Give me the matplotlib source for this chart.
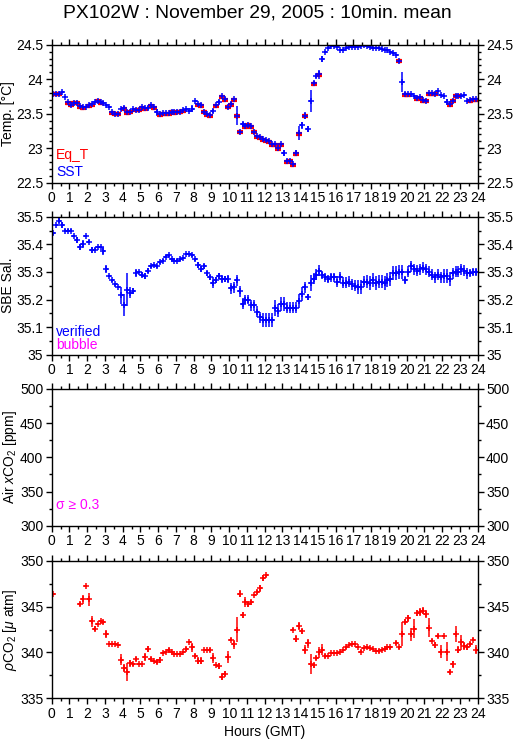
import numpy as np
import matplotlib
matplotlib.use("Agg")
import matplotlib.pyplot as plt

plt.rcParams['font.family'] = ['Liberation Sans', 'DejaVu Sans']
plt.rcParams['mathtext.fontset'] = 'custom'
plt.rcParams['mathtext.rm'] = 'Liberation Sans'
plt.rcParams['mathtext.it'] = 'Liberation Sans:italic'

nan = np.nan
# 10 min means, centre of each interval (hours GMT)
hours = np.arange(144) / 6.0 + 1.0 / 12.0

sst = [23.79, 23.79, 23.79, 23.81, 23.74, 23.67,
       23.63, 23.66, 23.66, 23.61, 23.59, 23.59,
       23.62, 23.64, 23.67, 23.69, 23.67, 23.65,
       23.62, 23.59, 23.52, 23.50, 23.50, 23.57,
       23.58, 23.52, 23.53, 23.57, 23.56, 23.56,
       23.59, 23.58, 23.58, 23.62, 23.59, 23.52,
       23.49, 23.51, 23.51, 23.51, 23.53, 23.52,
       23.53, 23.53, 23.55, 23.57, 23.54, 23.57,
       23.68, 23.64, 23.62, 23.53, 23.49, 23.48,
       23.54, 23.62, 23.67, 23.75, 23.71, 23.60,
       23.64, 23.71, 23.47, 23.24, 23.35, 23.32,
       23.34, 23.32, 23.24, 23.17, 23.16, 23.13,
       23.12, 23.10, 23.06, 23.06, 23.00, 23.06,
       22.93, 22.81, 22.82, 22.77, 22.93, 23.22,
       23.33, 23.47, 23.28, 23.68, 23.94, 24.05,
       24.07, 24.29, 24.40, 24.45, 24.48, 24.48,
       24.47, 24.42, 24.42, 24.45, 24.46, 24.46,
       24.46, 24.46, 24.48, 24.49, 24.48, 24.47,
       24.45, 24.45, 24.45, 24.44, 24.42, 24.42,
       24.40, 24.38, 24.35, 24.27, 23.96, 23.78,
       23.78, 23.78, 23.76, 23.73, 23.74, 23.70,
       23.69, 23.80, 23.80, 23.79, 23.83, 23.77,
       23.75, 23.67, 23.64, 23.69, 23.76, 23.76,
       23.76, 23.77, 23.68, 23.70, 23.71, 23.71]

sst_err = [0.005, 0.005, 0.005, 0.01, 0.01, 0.01,
           0.01, 0.01, 0.01, 0.01, 0.01, 0.01,
           0.005, 0.005, 0.01, 0.005, 0.01, 0.01,
           0.01, 0.01, 0.01, 0.01, 0.005, 0.01,
           0.03, 0.01, 0.01, 0.01, 0.01, 0.01,
           0.01, 0.01, 0.03, 0.005, 0.01, 0.05,
           0.01, 0.005, 0.005, 0.005, 0.005, 0.005,
           0.005, 0.005, 0.005, 0.01, 0.01, 0.05,
           0.01, 0.01, 0.03, 0.01, 0.005, 0.005,
           0.03, 0.005, 0.03, 0.005, 0.03, 0.03,
           0.03, 0.01, 0.14, 0.03, 0.03, 0.03,
           0.01, 0.01, 0.03, 0.01, 0.01, 0.01,
           0.01, 0.01, 0.01, 0.01, 0.03, 0.01,
           0.05, 0.03, 0.03, 0.01, 0.04, 0.1,
           0.05, 0.05, 0.04, 0.16, 0.03, 0.03,
           0.06, 0.04, 0.01, 0.005, 0.005, 0.005,
           0.005, 0.01, 0.01, 0.005, 0.005, 0.005,
           0.005, 0.005, 0.005, 0.005, 0.005, 0.005,
           0.005, 0.005, 0.005, 0.005, 0.005, 0.005,
           0.005, 0.005, 0.01, 0.03, 0.14, 0.03,
           0.005, 0.01, 0.01, 0.01, 0.005, 0.01,
           0.01, 0.01, 0.01, 0.01, 0.005, 0.01,
           0.01, 0.04, 0.03, 0.01, 0.005, 0.005,
           0.005, 0.01, 0.01, 0.005, 0.005, 0.005]

eq_t = [23.78, 23.78, 23.78, nan, nan, 23.66,
        23.62, 23.65, 23.65, 23.60, 23.58, nan,
        23.61, 23.63, nan, 23.68, 23.66, nan,
        nan, nan, 23.51, 23.49, 23.49, nan,
        23.57, 23.51, 23.52, nan, 23.55, 23.55,
        23.58, 23.57, nan, 23.61, 23.58, nan,
        23.48, 23.50, 23.50, 23.50, 23.52, 23.51,
        23.52, 23.52, 23.54, nan, nan, nan,
        nan, 23.63, 23.61, 23.52, 23.48, 23.47,
        nan, 23.61, nan, 23.74, 23.70, 23.59,
        23.63, 23.70, 23.46, 23.23, nan, 23.31,
        23.33, 23.31, 23.23, 23.16, 23.15, 23.12,
        23.11, 23.09, 23.05, 23.05, 22.99, 23.05,
        nan, 22.80, 22.81, 22.76, 22.92, 23.21,
        nan, 23.46, nan, nan, 23.93, nan,
        24.06, nan, nan, nan, nan, nan,
        nan, nan, nan, nan, nan, nan,
        nan, nan, nan, nan, nan, nan,
        nan, nan, nan, nan, nan, nan,
        nan, nan, nan, 24.26, nan, 23.77,
        23.77, nan, nan, 23.72, 23.73, 23.69,
        23.68, 23.79, 23.79, 23.78, nan, nan,
        nan, nan, 23.63, 23.68, 23.75, 23.75,
        nan, nan, nan, 23.69, 23.70, 23.70]

sal = [35.44, 35.47, 35.486, 35.47, 35.45, 35.45,
       35.45, 35.43, 35.415, 35.39, 35.40, 35.43,
       35.41, 35.38, 35.38, 35.39, 35.39, 35.375,
       35.31, 35.285, 35.27, 35.255, 35.245, 35.215,
       35.18, 35.235, 35.225, 35.23, 35.295, 35.30,
       35.29, 35.285, 35.305, 35.32, 35.325, 35.32,
       35.335, 35.34, 35.355, 35.36, 35.345, 35.34,
       35.34, 35.345, 35.35, 35.365, 35.365, 35.36,
       35.345, 35.325, 35.31, 35.32, 35.295, 35.28,
       35.26, 35.27, 35.285, 35.275, 35.275, 35.275,
       35.24, 35.245, 35.27, 35.23, 35.185, 35.20,
       35.20, 35.18, 35.18, 35.155, 35.135, 35.125,
       35.125, 35.125, 35.125, 35.17, 35.16, 35.185,
       35.185, 35.17, 35.17, 35.17, 35.17, 35.195,
       35.22, 35.245, 35.21, 35.26, 35.275, 35.29,
       35.305, 35.29, 35.28, 35.275, 35.28, 35.28,
       35.265, 35.28, 35.26, 35.26, 35.265, 35.255,
       35.25, 35.245, 35.245, 35.265, 35.265, 35.26,
       35.27, 35.26, 35.265, 35.265, 35.26, 35.27,
       35.275, 35.295, 35.295, 35.30, 35.30, 35.27,
       35.30, 35.32, 35.31, 35.305, 35.31, 35.315,
       35.31, 35.30, 35.29, 35.28, 35.29, 35.28,
       35.285, 35.285, 35.275, 35.295, 35.30, 35.30,
       35.31, 35.305, 35.295, 35.295, 35.30, 35.30]

sal_err = [0.005, 0.005, 0.01, 0.01, 0.005, 0.005,
           0.005, 0.005, 0.01, 0.01, 0.015, 0.005,
           0.005, 0.01, 0.005, 0.005, 0.005, 0.015,
           0.015, 0.005, 0.005, 0.005, 0.005, 0.03,
           0.04, 0.06, 0.02, 0.01, 0.015, 0.005,
           0.01, 0.01, 0.01, 0.005, 0.005, 0.005,
           0.005, 0.005, 0.005, 0.005, 0.005, 0.005,
           0.005, 0.005, 0.005, 0.005, 0.005, 0.005,
           0.005, 0.01, 0.01, 0.01, 0.01, 0.01,
           0.02, 0.01, 0.01, 0.015, 0.01, 0.015,
           0.02, 0.02, 0.02, 0.02, 0.02, 0.015,
           0.015, 0.02, 0.02, 0.02, 0.02, 0.025,
           0.025, 0.025, 0.025, 0.03, 0.025, 0.025,
           0.025, 0.02, 0.02, 0.02, 0.02, 0.025,
           0.025, 0.02, 0.01, 0.03, 0.02, 0.02,
           0.02, 0.015, 0.015, 0.015, 0.015, 0.015,
           0.02, 0.02, 0.02, 0.02, 0.02, 0.02,
           0.02, 0.025, 0.025, 0.02, 0.025, 0.025,
           0.025, 0.025, 0.025, 0.025, 0.025, 0.025,
           0.025, 0.025, 0.025, 0.025, 0.025, 0.015,
           0.02, 0.02, 0.02, 0.02, 0.02, 0.02,
           0.02, 0.02, 0.02, 0.02, 0.02, 0.02,
           0.025, 0.025, 0.025, 0.02, 0.02, 0.02,
           0.02, 0.02, 0.02, 0.015, 0.015, 0.015]

pco2 = [346.4, nan, nan, nan, nan, nan,
        nan, nan, nan, 345.3, 345.8, 347.2,
        345.8, 343.4, 342.6, 343.1, 343.4, 343.3,
        342.0, 340.9, 340.9, 340.9, 340.8, 339.2,
        338.3, 337.9, 338.8, 338.7, 339.3, 338.7,
        338.7, 339.5, 340.4, 339.3, 339.1, 339.0,
        339.2, 339.9, 340.05, 340.3, 340.05, 339.8,
        339.8, 339.8, 340.0, 340.4, 341.1, 340.55,
        339.6, 339.1, 339.1, 340.3, 340.3, 340.3,
        339.4, 338.6, 338.5, 337.35, 337.7, 339.5,
        341.4, 340.9, 342.5, 346.4, 344.1, 345.5,
        345.25, 345.45, 346.3, 346.6, 347.0, 348.1,
        348.4, nan, nan, nan, nan, nan,
        nan, nan, nan, 342.5, 341.5, 342.9,
        342.3, 340.3, 341.0, 338.7, 338.6, 339.4,
        340.0, 340.3, 339.6, 339.6, 339.9, 339.9,
        339.9, 340.05, 340.3, 340.55, 340.8, 340.9,
        340.9, 340.55, 340.1, 340.45, 340.55, 340.45,
        340.35, 340.2, 340.15, 340.25, 340.4, 340.55,
        340.55, nan, 341.0, 340.55, 342.0, 343.35,
        343.7, 342.0, 342.6, 344.3, 344.4, 344.55,
        344.2, 342.7, 341.3, 340.8, 341.8, 340.1,
        341.8, 340.1, 337.9, 338.7, 342.0, 340.3,
        341.1, 340.7, 340.55, 340.9, 341.4, 340.3]

pco2_err = [0.0, 0, 0, 0, 0, 0,
            0, 0, 0, 0.2, 0.5, 0.1,
            0.7, 0.6, 0.3, 0.1, 0.15, 0.15,
            0.4, 0.1, 0.1, 0.1, 0.1, 0.6,
            0.4, 1.0, 0.4, 0.2, 0.2, 0.1,
            0.1, 0.4, 0.3, 0.2, 0.1, 0.3,
            0.3, 0.1, 0.1, 0.2, 0.1, 0.1,
            0.1, 0.1, 0.1, 0.2, 0.1, 0.5,
            0.2, 0.4, 0.4, 0.1, 0.1, 0.2,
            0.5, 0.1, 0.3, 0.4, 0.3, 0.7,
            0.2, 0.5, 1.4, 0.4, 0.3, 0.5,
            0.3, 0.3, 0.1, 0.2, 0.4, 0.3,
            0.2, 0, 0, 0, 0, 0,
            0, 0, 0, 0.2, 0.4, 0.4,
            0.3, 0.5, 0.5, 1.1, 0.3, 0.2,
            0.6, 0.6, 0.2, 0.1, 0.1, 0.1,
            0.1, 0.1, 0.1, 0.2, 0.1, 0.1,
            0.1, 0.1, 0.2, 0.1, 0.2, 0.1,
            0.1, 0.1, 0.2, 0.1, 0.1, 0.2,
            0.2, 0, 0.2, 0.2, 1.3, 0.3,
            0.4, 0.7, 1.0, 0.3, 0.4, 0.4,
            0.4, 1.0, 0.2, 0.3, 0.2, 0.7,
            0.1, 1.0, 0.2, 0.4, 0.9, 0.4,
            0.8, 0.4, 0.3, 0.2, 0.2, 0.5]

BLUE = '#0000ff'
RED = '#ff0000'
MAG = '#ff00ff'
half = 1.0 / 12.0

fig = plt.figure(figsize=(5.15, 7.39), dpi=100)
fig.text(0.5, 1 - 13 / 739, 'PX102W : November 29, 2005 : 10min. mean',
         ha='center', va='center', fontsize=13.9)

left, width = 51.7 / 515, 426.0 / 515
boxes = [(44.7, 182.7), (216.7, 354.7), (389.0, 525.7), (560.7, 698.3)]
axes = []
for top, bot in boxes:
    ax = fig.add_axes([left, 1 - bot / 739, width, (bot - top) / 739])
    axes.append(ax)

ylims = [(22.5, 24.5), (35.0, 35.5), (300, 500), (335, 350)]
ymaj = [0.5, 0.1, 50, 5]
ymin = [0.1, 0.05, 25, 2.5]
ylabels = ['Temp. [°C]', 'SBE Sal.', 'Air $x$CO$_2$ [ppm]', r'$\rho$CO$_2$ [$\mu$ atm]']

for i, ax in enumerate(axes):
    ax.set_xlim(0, 24)
    ax.set_ylim(*ylims[i])
    ax.set_xticks(np.arange(0, 25, 1))
    ax.set_xticks(np.arange(0.5, 24, 1), minor=True)
    yt = np.arange(ylims[i][0], ylims[i][1] + 1e-9, ymaj[i])
    ax.set_yticks(yt)
    ax.set_yticklabels(['{:g}'.format(round(v, 2)) for v in yt])
    ax.set_yticks(np.arange(ylims[i][0], ylims[i][1] + 1e-9, ymin[i]), minor=True)
    ax.tick_params(which='both', direction='out', top=True, right=True,
                   labelright=True, labelsize=10, pad=2, width=1)
    ax.tick_params(which='major', length=4)
    ax.tick_params(which='minor', length=2.5)
    ax.set_ylabel(ylabels[i], fontsize=10, labelpad=1)
    for s in ax.spines.values():
        s.set_linewidth(1)

ax1, ax2, ax3, ax4 = axes
ax1.errorbar(hours, eq_t, xerr=half, fmt='_', color=RED, ms=5, mew=3,
             ecolor=RED, elinewidth=3, capsize=0)
ax1.errorbar(hours, sst, yerr=sst_err, xerr=half, fmt='+', color=BLUE, ms=4, mew=1.1,
             ecolor=BLUE, elinewidth=1.1, capsize=0)
ax1.text(0.01, 0.20, 'Eq_T', color=RED, transform=ax1.transAxes, fontsize=10, va='center')
ax1.text(0.01, 0.075, 'SST', color=BLUE, transform=ax1.transAxes, fontsize=10, va='center')

ax2.errorbar(hours, sal, yerr=sal_err, xerr=half, fmt='+', color=BLUE, ms=4, mew=1.1,
             ecolor=BLUE, elinewidth=1.1, capsize=0)
ax2.text(0.01, 0.165, 'verified', color=BLUE, transform=ax2.transAxes, fontsize=10, va='center')
ax2.text(0.01, 0.07, 'bubble', color=MAG, transform=ax2.transAxes, fontsize=10, va='center')

ax3.text(0.01, 0.15, 'σ ≥ 0.3', color=MAG, transform=ax3.transAxes, fontsize=10, va='center')

ax4.errorbar(hours, pco2, yerr=pco2_err, xerr=half, fmt='+', color=RED, ms=4, mew=1.1,
             ecolor=RED, elinewidth=1.1, capsize=0)
ax4.set_xlabel('Hours (GMT)', fontsize=10, labelpad=3)

fig.savefig('out.png', dpi=100)
